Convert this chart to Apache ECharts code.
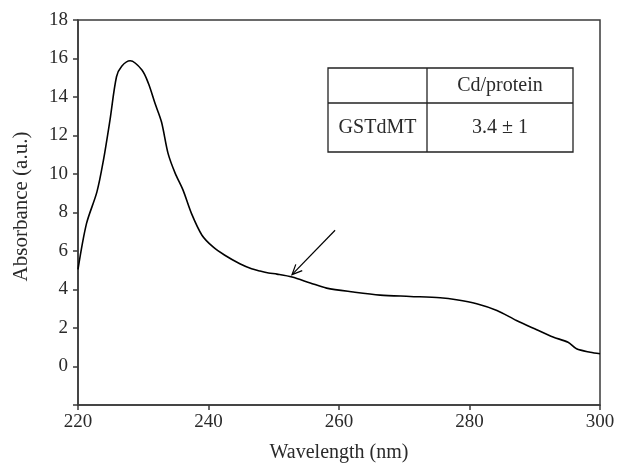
<!DOCTYPE html>
<html>
<head>
<meta charset="utf-8">
<script src="https://cdn.jsdelivr.net/npm/echarts@6/dist/echarts.min.js"></script>
<style>html,body{margin:0;padding:0;background:#fff}#c{width:619px;height:463px}</style>
</head>
<body>
<div id="c"></div>
<script>
var wavelength = [220, 221.3, 222.9, 223.9, 224.9, 225.9, 226.7, 228.0, 229.8, 230.8, 231.8, 232.8, 233.8, 234.9, 236.1, 237.4, 239.0, 240.7, 242.5, 244.8, 246.6, 247.9, 249.2, 250.5, 252.8, 255.6, 258.1, 262.2, 266.3, 270.9, 275.5, 278.0, 281.1, 284.2, 287.2, 290.3, 292.8, 295.1, 296.4, 298.5, 300];
var absorbance = [5.05, 7.42, 9.07, 10.72, 12.8, 15.05, 15.6, 15.88, 15.4, 14.7, 13.67, 12.7, 11.07, 10.03, 9.16, 7.94, 6.82, 6.21, 5.78, 5.34, 5.08, 4.96, 4.86, 4.8, 4.65, 4.34, 4.07, 3.87, 3.71, 3.64, 3.57, 3.47, 3.26, 2.91, 2.39, 1.91, 1.53, 1.26, 0.92, 0.74, 0.66];
var xTicks = [220, 240, 260, 280, 300];
var yTicks = [0, 2, 4, 6, 8, 10, 12, 14, 16, 18];
var arrowFrom = [259.4, 7.08];
var arrowTo = [252.8, 4.77];
var tableHeader = ['', 'Cd/protein'];
var tableRow = ['GSTdMT', '3.4 \u00b1 1'];

var FONT = '"Liberation Serif", "DejaVu Serif", serif';
var AX = '#3a3a3a';
var TXT = '#2a2a2a';
var chart = echarts.init(document.getElementById('c'));
var points = wavelength.map(function (w, i) { return [w, absorbance[i]]; });

chart.setOption({
  animation: false,
  backgroundColor: '#fff',
  grid: { left: 78, right: 19, top: 20, bottom: 58, containLabel: false, outerBoundsMode: 'none',
    show: true, borderColor: AX, borderWidth: 1.5, backgroundColor: 'transparent' },
  xAxis: {
    type: 'value', min: 220, max: 300, interval: 20,
    name: 'Wavelength (nm)', nameLocation: 'middle', nameGap: 38,
    nameTextStyle: { fontFamily: FONT, fontSize: 20, color: TXT },
    axisLine: { onZero: false, lineStyle: { color: AX, width: 1.5 } },
    axisTick: { length: 5, lineStyle: { color: AX, width: 1.5 } },
    axisLabel: { fontFamily: FONT, fontSize: 19, color: TXT, margin: 8,
      formatter: function (v) { return xTicks.indexOf(v) >= 0 ? String(v) : ''; } },
    splitLine: { show: false }
  },
  yAxis: {
    type: 'value', min: -2, max: 18, interval: 2,
    name: 'Absorbance (a.u.)', nameLocation: 'middle', nameGap: 46,
    nameTextStyle: { fontFamily: FONT, fontSize: 21, color: TXT, padding: [0, 0, 0, 12] },
    axisLine: { show: true, onZero: false, lineStyle: { color: AX, width: 1.5 } },
    axisTick: { show: true, length: 5, lineStyle: { color: AX, width: 1.5 } },
    axisLabel: { fontFamily: FONT, fontSize: 19, color: TXT, margin: 10,
      formatter: function (v) { return yTicks.indexOf(v) >= 0 ? String(v) : ''; } },
    splitLine: { show: false }
  },
  series: [{
    type: 'line', data: points, showSymbol: false, smooth: 0.3,
    lineStyle: { color: '#000', width: 1.6 }
  }]
});

var p0 = chart.convertToPixel({ gridIndex: 0 }, arrowFrom);
var p1 = chart.convertToPixel({ gridIndex: 0 }, arrowTo);
var ang = Math.atan2(p0[1] - p1[1], p0[0] - p1[0]);
var hl = 11, spread = 0.42;
var h1 = [p1[0] + hl * Math.cos(ang + spread), p1[1] + hl * Math.sin(ang + spread)];
var h2 = [p1[0] + hl * Math.cos(ang - spread), p1[1] + hl * Math.sin(ang - spread)];

var tL = 328, tR = 573, tT = 68, tM = 103, tB = 152, tC = 427;
var cellText = function (x, y, s) {
  return { type: 'text', x: x, y: y, style: { text: s, font: '20px ' + FONT, fill: TXT, align: 'center', verticalAlign: 'middle' } };
};
chart.setOption({
  graphic: [
    { type: 'line', shape: { x1: p0[0], y1: p0[1], x2: p1[0], y2: p1[1] }, style: { stroke: '#000', lineWidth: 1.2 } },
    { type: 'polyline', shape: { points: [h1, p1, h2] }, style: { stroke: '#000', lineWidth: 1.2, fill: null } },
    { type: 'rect', shape: { x: tL, y: tT, width: tR - tL, height: tB - tT }, style: { fill: '#fff', stroke: '#222', lineWidth: 1.3 } },
    { type: 'line', shape: { x1: tL, y1: tM, x2: tR, y2: tM }, style: { stroke: '#222', lineWidth: 1.3 } },
    { type: 'line', shape: { x1: tC, y1: tT, x2: tC, y2: tB }, style: { stroke: '#222', lineWidth: 1.3 } },
    cellText((tL + tC) / 2, (tT + tM) / 2, tableHeader[0]),
    cellText((tC + tR) / 2, (tT + tM) / 2, tableHeader[1]),
    cellText((tL + tC) / 2, (tM + tB) / 2, tableRow[0]),
    cellText((tC + tR) / 2, (tM + tB) / 2, tableRow[1])
  ]
});
</script>
</body>
</html>
